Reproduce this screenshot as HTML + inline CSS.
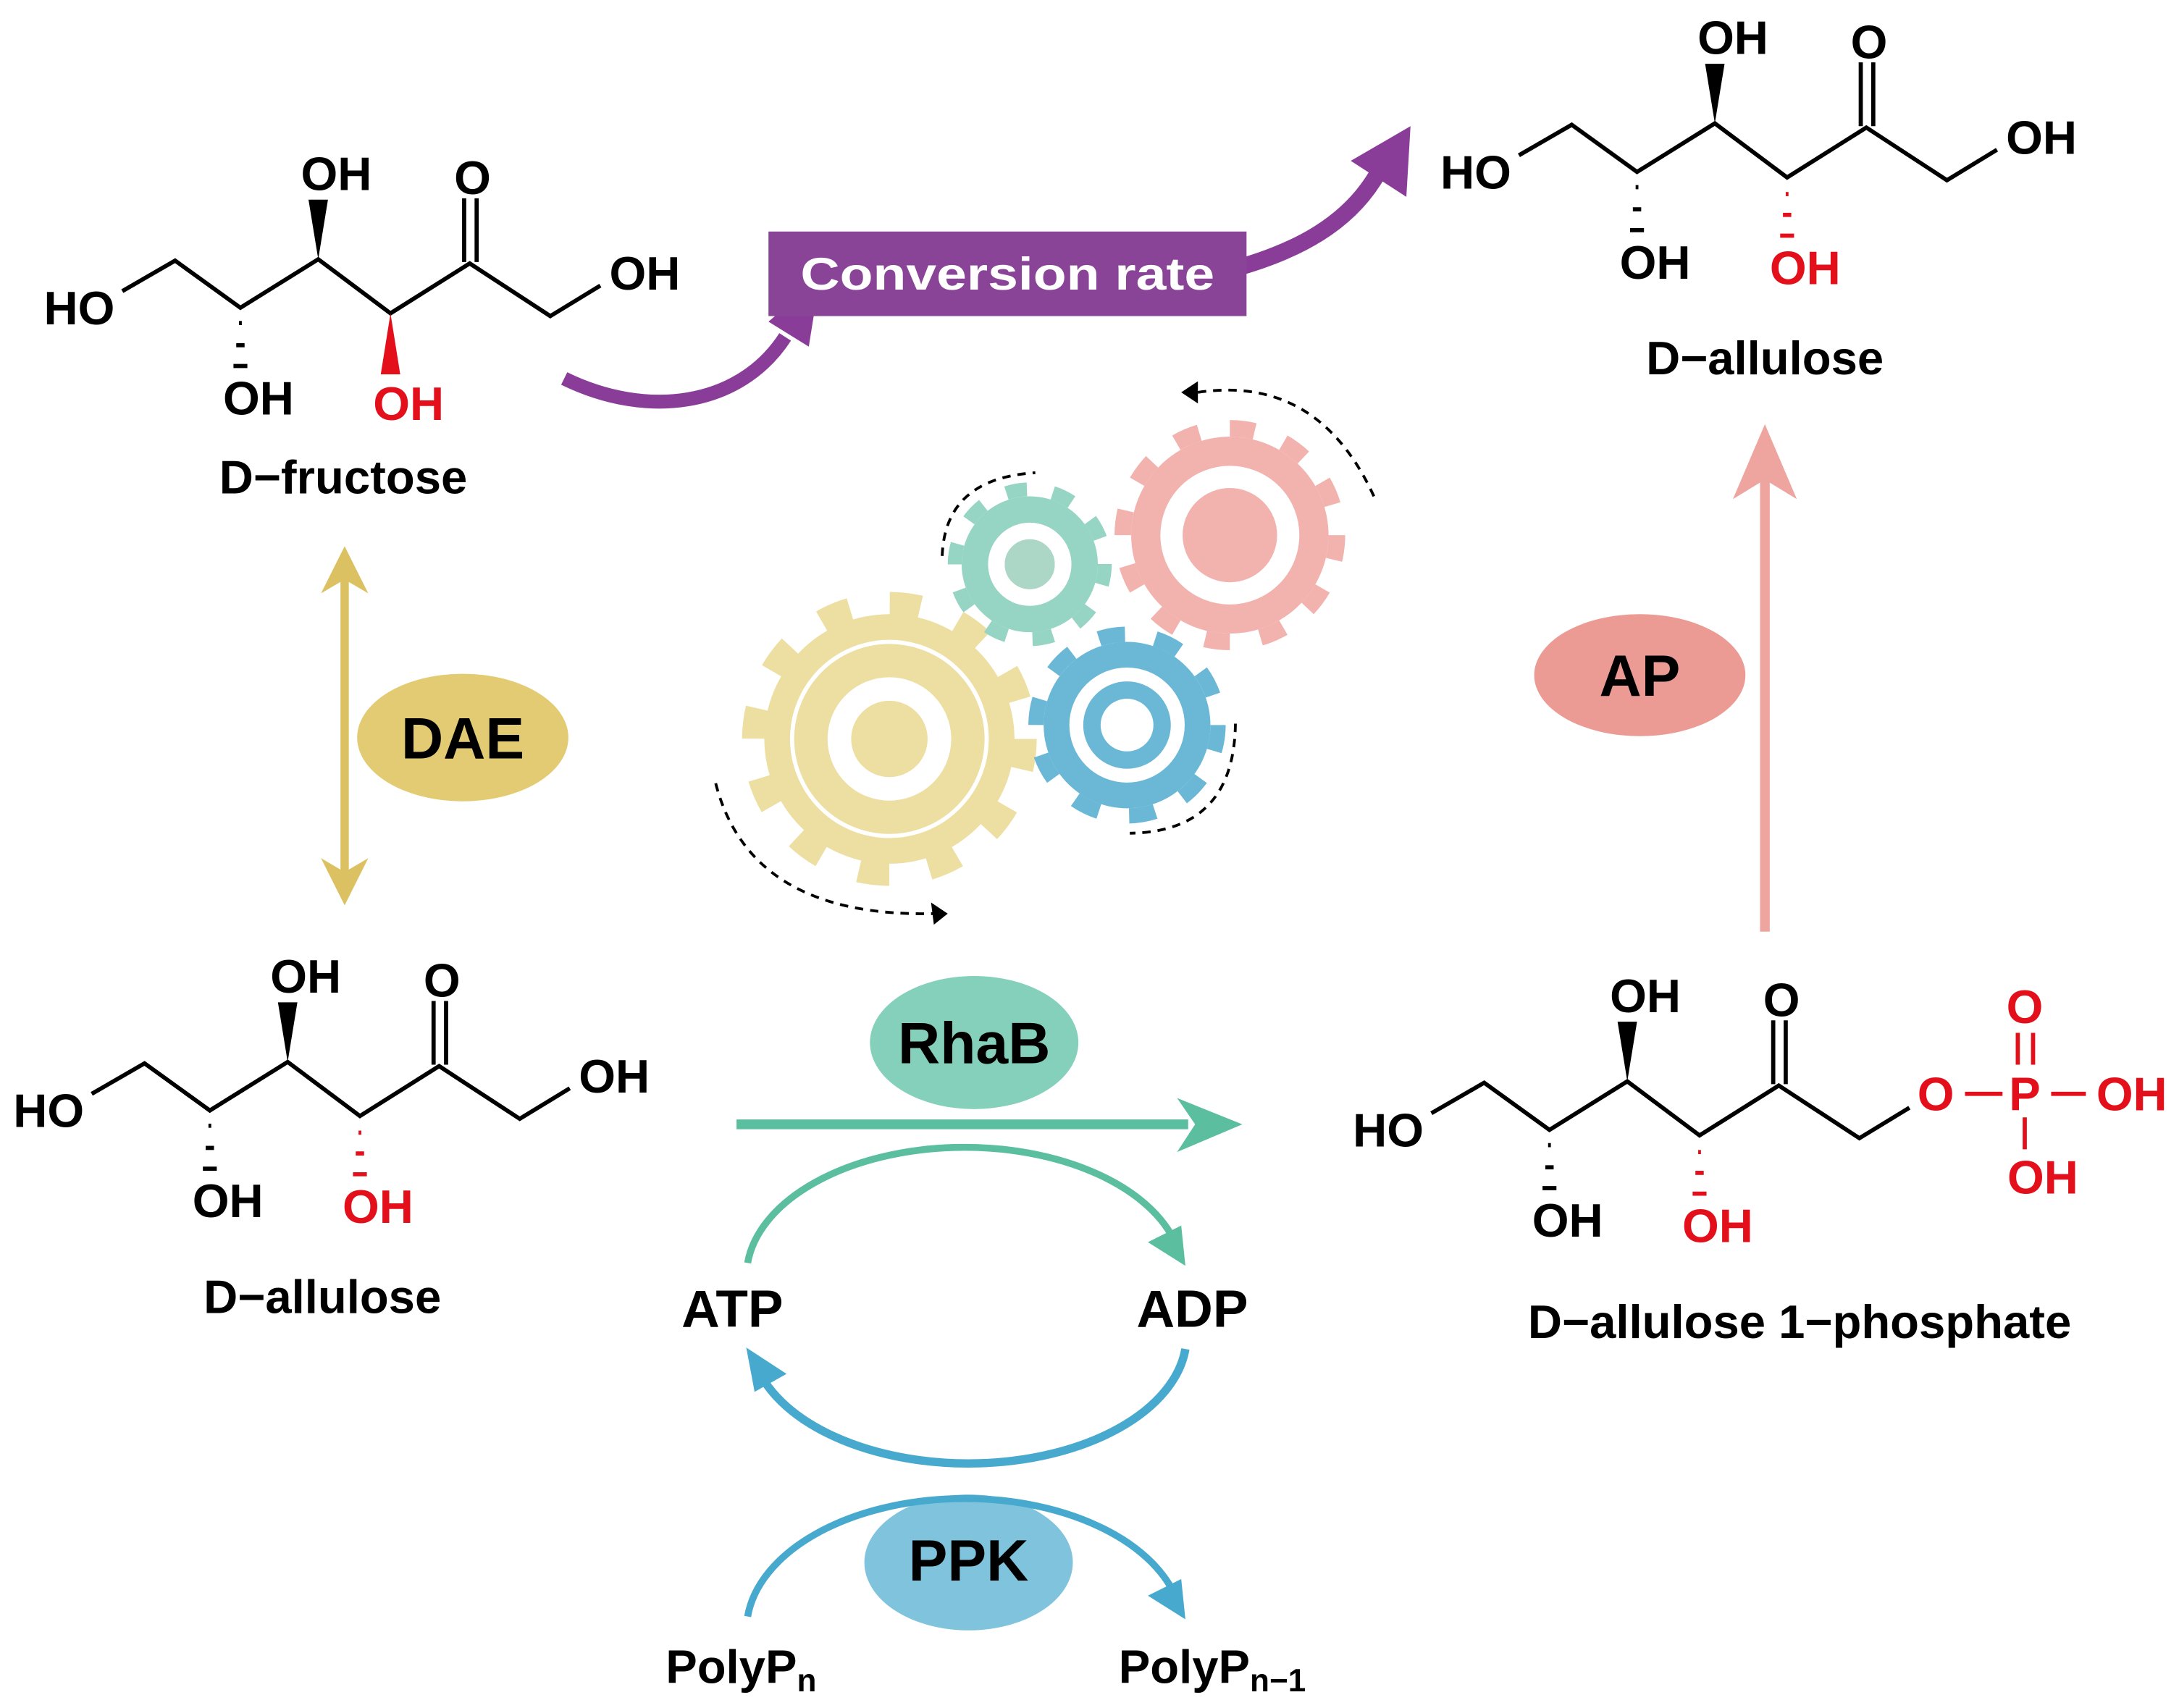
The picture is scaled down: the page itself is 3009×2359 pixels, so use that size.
<!DOCTYPE html>
<html><head><meta charset="utf-8"><style>
html,body{margin:0;padding:0;background:#fff;}
svg{display:block;}
text{font-family:"Liberation Sans",Arial,sans-serif;font-weight:bold;}
</style></head><body>
<svg width="3009" height="2359" viewBox="0 0 1568 1232" preserveAspectRatio="none" xmlns="http://www.w3.org/2000/svg">
<rect width="1568" height="1232" fill="#fff"/>

<!-- D-fructose -->
<g transform="translate(0,0)">
 <path d="M88,210 L126,188 L173,222 L229,187 L281,226 L338,190 L396,228 L432,206" stroke="#000" stroke-width="3" fill="none" stroke-linejoin="miter"/>
 <polygon points="229,187 222,144 236,144" fill="#000"/>
 <g stroke="#000" stroke-width="3"><line x1="172" y1="233" x2="174" y2="233"/><line x1="170" y1="249" x2="176" y2="249"/><line x1="168" y1="264" x2="178" y2="264"/></g>
 <line x1="334" y1="189" x2="334" y2="143" stroke="#000" stroke-width="3"/><line x1="343" y1="189" x2="343" y2="143" stroke="#000" stroke-width="3"/>
 <polygon points="281,226 274,270 288,270" fill="#e3101b"/>
 <g font-size="34" text-anchor="middle">
  <text x="57" y="234">HO</text><text x="242" y="137">OH</text><text x="340" y="140">O</text>
  <text x="464" y="209">OH</text><text x="186" y="299">OH</text><text x="294" y="303" fill="#e3101b">OH</text>
 </g>
</g>
<text x="247" y="356" font-size="34" text-anchor="middle">D−fructose</text>

<!-- D-allulose bottom left -->
<g transform="translate(-22,579)">
 <path d="M88,210 L126,188 L173,222 L229,187 L281,226 L338,190 L396,228 L432,206" stroke="#000" stroke-width="3" fill="none"/>
 <polygon points="229,187 222,144 236,144" fill="#000"/>
 <g stroke="#000" stroke-width="3"><line x1="172" y1="233" x2="174" y2="233"/><line x1="170" y1="249" x2="176" y2="249"/><line x1="168" y1="264" x2="178" y2="264"/></g>
 <line x1="334" y1="189" x2="334" y2="143" stroke="#000" stroke-width="3"/><line x1="343" y1="189" x2="343" y2="143" stroke="#000" stroke-width="3"/>
 <g stroke="#e3101b" stroke-width="3"><line x1="280" y1="238" x2="282" y2="238"/><line x1="278" y1="253" x2="284" y2="253"/><line x1="276" y1="268" x2="286" y2="268"/></g>
 <g font-size="34" text-anchor="middle">
  <text x="57" y="234">HO</text><text x="242" y="137">OH</text><text x="340" y="140">O</text>
  <text x="464" y="209">OH</text><text x="186" y="299">OH</text><text x="294" y="303" fill="#e3101b">OH</text>
 </g>
</g>
<text x="232" y="947" font-size="34" text-anchor="middle">D−allulose</text>

<!-- D-allulose top right -->
<g transform="translate(1005,-98)">
 <path d="M88,210 L126,188 L173,222 L229,187 L281,226 L338,190 L396,228 L432,206" stroke="#000" stroke-width="3" fill="none"/>
 <polygon points="229,187 222,144 236,144" fill="#000"/>
 <g stroke="#000" stroke-width="3"><line x1="172" y1="233" x2="174" y2="233"/><line x1="170" y1="249" x2="176" y2="249"/><line x1="168" y1="264" x2="178" y2="264"/></g>
 <line x1="334" y1="189" x2="334" y2="143" stroke="#000" stroke-width="3"/><line x1="343" y1="189" x2="343" y2="143" stroke="#000" stroke-width="3"/>
 <g stroke="#e3101b" stroke-width="3"><line x1="280" y1="238" x2="282" y2="238"/><line x1="278" y1="253" x2="284" y2="253"/><line x1="276" y1="268" x2="286" y2="268"/></g>
 <g font-size="34" text-anchor="middle">
  <text x="57" y="234">HO</text><text x="242" y="137">OH</text><text x="340" y="140">O</text>
  <text x="464" y="209">OH</text><text x="186" y="299">OH</text><text x="294" y="303" fill="#e3101b">OH</text>
 </g>
</g>
<text x="1270" y="270" font-size="34" text-anchor="middle">D−allulose</text>

<!-- D-allulose 1-phosphate -->
<g transform="translate(942,593)">
 <path d="M88,210 L126,188 L173,222 L229,187 L281,226 L338,190 L396,228 L432,206" stroke="#000" stroke-width="3" fill="none"/>
 <polygon points="229,187 222,144 236,144" fill="#000"/>
 <g stroke="#000" stroke-width="3"><line x1="172" y1="233" x2="174" y2="233"/><line x1="170" y1="249" x2="176" y2="249"/><line x1="168" y1="264" x2="178" y2="264"/></g>
 <line x1="334" y1="189" x2="334" y2="143" stroke="#000" stroke-width="3"/><line x1="343" y1="189" x2="343" y2="143" stroke="#000" stroke-width="3"/>
 <g stroke="#e3101b" stroke-width="3"><line x1="280" y1="238" x2="282" y2="238"/><line x1="278" y1="253" x2="284" y2="253"/><line x1="276" y1="268" x2="286" y2="268"/></g>
 <g stroke="#e3101b" stroke-width="3">
  <line x1="472" y1="196" x2="499" y2="196"/><line x1="534" y1="196" x2="559" y2="196"/>
  <line x1="510" y1="152" x2="510" y2="175"/><line x1="521" y1="152" x2="521" y2="175"/>
  <line x1="515" y1="213" x2="515" y2="236"/>
 </g>
 <g font-size="34" text-anchor="middle">
  <text x="57" y="234">HO</text><text x="242" y="137">OH</text><text x="340" y="140">O</text>
  <text x="186" y="299">OH</text><text x="294" y="303" fill="#e3101b">OH</text>
  <g fill="#e3101b"><text x="451" y="208">O</text><text x="515" y="208">P</text><text x="592" y="208">OH</text>
  <text x="515" y="145">O</text><text x="528" y="268">OH</text></g>
 </g>
</g>
<text x="1295" y="965" font-size="34" text-anchor="middle">D−allulose 1−phosphate</text>

<!-- DAE -->
<line x1="248" y1="410" x2="248" y2="636" stroke="#dcc162" stroke-width="6"/>
<polygon points="248,394 231,428 248,418 265,428" fill="#dcc162"/>
<polygon points="248,653 231,619 248,629 265,619" fill="#dcc162"/>
<ellipse cx="333" cy="532" rx="76" ry="46" fill="#e3cb73"/>
<text x="333" y="547" font-size="42" text-anchor="middle">DAE</text>

<!-- AP -->
<line x1="1270" y1="672" x2="1270" y2="340" stroke="#eea59f" stroke-width="7"/>
<polygon points="1270,306 1247,360 1270,346 1293,360" fill="#eea59f"/>
<ellipse cx="1180" cy="487" rx="76" ry="44" fill="#eb9b94"/>
<text x="1180" y="502" font-size="42" text-anchor="middle">AP</text>

<!-- purple arrows and box -->
<path d="M406,273 C465,302 532,294 565,243" stroke="#8a3d98" stroke-width="10" fill="none"/>
<polygon points="590,200 553,232 582,250" fill="#8a3d98"/>
<path d="M880,196 C935,182 972,160 992,124" stroke="#8a3d98" stroke-width="12" fill="none"/>
<polygon points="1015,91 972,116 1012,142" fill="#8a3d98"/>
<rect x="553" y="167" width="344" height="61" fill="#8a4497"/>
<text x="725" y="209" font-size="33" fill="#fff" text-anchor="middle" textLength="298" lengthAdjust="spacingAndGlyphs">Conversion rate</text>

<!-- gears -->
<g>
 <circle cx="640" cy="533" r="97" fill="none" stroke="#eddea2" stroke-width="18" stroke-dasharray="22 28.8"/>
 <circle cx="640" cy="533" r="90" fill="#eddea2"/>
 <circle cx="640" cy="533" r="70" fill="none" stroke="#fff" stroke-width="3"/>
 <circle cx="640" cy="533" r="36" fill="none" stroke="#fff" stroke-width="17"/>

 <circle cx="741" cy="407" r="54" fill="none" stroke="#96d5c4" stroke-width="10" stroke-dasharray="15 18.9"/>
 <circle cx="741" cy="407" r="49" fill="#96d5c4"/>
 <circle cx="741" cy="407" r="24" fill="none" stroke="#fff" stroke-width="12"/>
 <circle cx="741" cy="407" r="18" fill="#acd6c6"/>

 <circle cx="885" cy="386" r="77" fill="none" stroke="#f2b3af" stroke-width="12" stroke-dasharray="18 22.3"/>
 <circle cx="885" cy="386" r="71" fill="#f2b3af"/>
 <circle cx="885" cy="386" r="42" fill="none" stroke="#fff" stroke-width="16"/>

 <circle cx="811" cy="523" r="65.5" fill="none" stroke="#6bb8d6" stroke-width="11" stroke-dasharray="19 22.15"/>
 <circle cx="811" cy="523" r="60" fill="#6bb8d6"/>
 <circle cx="811" cy="523" r="36.5" fill="none" stroke="#fff" stroke-width="10"/>
 <circle cx="811" cy="523" r="19" fill="#fff"/>
</g>
<g fill="none" stroke="#000" stroke-width="2" stroke-dasharray="6 5">
 <path d="M515,565 Q540,662 672,659"/>
 <path d="M678,401 Q680,345 745,341"/>
 <path d="M862,283 Q950,270 990,361"/>
 <path d="M889,522 Q888,600 813,601"/>
</g>
<polygon points="682,659 670,651 672,667" fill="#000"/>
<polygon points="850,283 862,275 862,291" fill="#000"/>

<!-- RhaB -->
<ellipse cx="701" cy="752" rx="75" ry="48" fill="#85d0ba"/>
<text x="701" y="767" font-size="42" text-anchor="middle">RhaB</text>
<line x1="530" y1="811" x2="855" y2="811" stroke="#5bbf9f" stroke-width="7"/>
<polygon points="894,811 847,792 860,811 847,831" fill="#5bbf9f"/>
<path d="M538,911 A157,93 0 0 1 848,902" stroke="#5bbf9f" stroke-width="5" fill="none"/>
<polygon points="853,913 826,896 850,884" fill="#5bbf9f"/>

<text x="527" y="957" font-size="38" text-anchor="middle">ATP</text>
<text x="858" y="957" font-size="38" text-anchor="middle">ADP</text>

<!-- PPK -->
<path d="M853,973 A157,92 0 0 1 543,982" stroke="#48a9cf" stroke-width="6" fill="none"/>
<polygon points="537,972 566,991 543,1004" fill="#48a9cf"/>
<ellipse cx="697" cy="1127" rx="75" ry="49" fill="#80c3dc"/>
<text x="697" y="1140" font-size="42" text-anchor="middle">PPK</text>
<path d="M538,1166 A157,95 0 0 1 848,1157" stroke="#48a9cf" stroke-width="5" fill="none"/>
<polygon points="853,1168 826,1151 850,1139" fill="#48a9cf"/>

<text x="479" y="1214" font-size="34">PolyP<tspan font-size="23" dy="6">n</tspan></text>
<text x="805" y="1214" font-size="34">PolyP<tspan font-size="23" dy="6">n−1</tspan></text>
</svg>
</body></html>
